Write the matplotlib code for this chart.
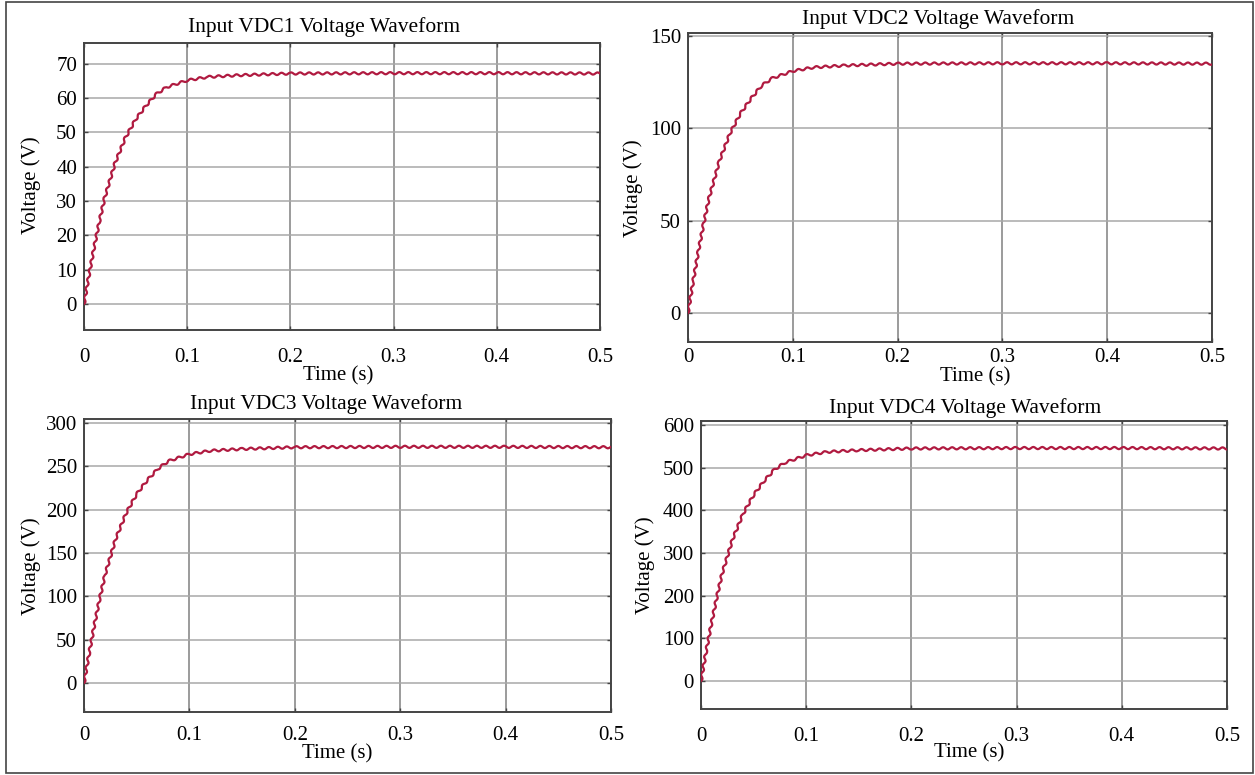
import matplotlib
matplotlib.use('Agg')
import matplotlib.pyplot as plt
from matplotlib.patches import Rectangle

# Time samples (s)
t = [0, 0.005, 0.01, 0.015, 0.02, 0.03, 0.04, 0.05, 0.06, 0.07, 0.08,
     0.1, 0.12, 0.15, 0.2, 0.3, 0.4, 0.5]

# Voltage values (V)
vdc1 = [0, 8.7, 16.8, 24.2, 30.9, 41.0, 48.4, 53.8, 57.8, 61.2, 63.2,
        65.2, 66.2, 66.7, 67.2, 67.3, 67.3, 67.2]
vdc2 = [0, 17.5, 33.8, 48.6, 62.1, 82.4, 97.2, 108, 116, 123, 127,
        131, 133, 134, 135, 135.2, 135.2, 135]
vdc3 = [0, 35, 68, 98, 125, 166, 196, 218, 234, 247, 256,
        264, 268, 270, 272, 272.5, 272.5, 272]
vdc4 = [0, 71, 136, 196, 251, 332, 392, 436, 469, 496, 512,
        529, 537, 541, 545, 546, 546, 545]

titles = ['Input VDC1 Voltage Waveform', 'Input VDC2 Voltage Waveform',
          'Input VDC3 Voltage Waveform', 'Input VDC4 Voltage Waveform']
xticks = [0, 0.1, 0.2, 0.3, 0.4, 0.5]
xticklabels = ['0', '0.1', '0.2', '0.3', '0.4', '0.5']
yticks = [[0, 10, 20, 30, 40, 50, 60, 70],
          [0, 50, 100, 150],
          [0, 50, 100, 150, 200, 250, 300],
          [0, 100, 200, 300, 400, 500, 600]]
ylims = [(-7.6, 76.1), (-15.7, 151.6), (-33.5, 304.6), (-65.6, 609.4)]
series = [vdc1, vdc2, vdc3, vdc4]

plt.rcParams['font.family'] = ['Liberation Serif', 'DejaVu Serif']

W, H = 1255, 775
fig = plt.figure(figsize=(W / 100, H / 100), dpi=100)

def px_rect(l, r, top, bot):
    return [l / W, 1 - bot / H, (r - l) / W, (bot - top) / H]

# axes boxes in pixels (left, right, top, bottom)
boxes = [(84, 600, 43, 330), (688, 1212, 33, 342),
         (84, 611, 419, 712), (701, 1227, 421, 709)]
xpads = [13, 4, 10, 13]
title_pos = [(324, 32), (938, 24), (326, 409), (965, 413)]
xlabel_pos = [(338, 376), (975, 377), (337, 754), (969, 753)]
ylabel_pos = [(31, 185), (633, 188), (31, 566), (645, 565)]

for i in range(4):
    ax = fig.add_axes(px_rect(*boxes[i]))
    line, = ax.plot(t, series[i], color='#b01a40', lw=1.6, zorder=3)
    line.set_sketch_params(scale=1.1, length=9, randomness=1)
    ax.set_xlim(0, 0.5)
    ax.set_ylim(*ylims[i])
    ax.set_xticks(xticks)
    ax.set_xticklabels(xticklabels)
    ax.set_yticks(yticks[i])
    ax.xaxis.grid(True, color='#808080', lw=1.1)
    ax.yaxis.grid(True, color='#a8a8a8', lw=1.1)
    ax.tick_params(axis='both', direction='in', length=3, width=1,
                   color='#444444', labelsize=15, top=True, right=True)
    ax.tick_params(axis='x', pad=xpads[i])
    ax.tick_params(axis='y', pad=5)
    for sp in ax.spines.values():
        sp.set_color('#444444')
        sp.set_linewidth(1.4)
    fig.text(title_pos[i][0] / W, 1 - title_pos[i][1] / H, titles[i],
             ha='center', va='baseline', fontsize=15.5)
    fig.text(xlabel_pos[i][0] / W, 1 - xlabel_pos[i][1] / H, 'Time (s)',
             ha='center', va='center', fontsize=15)
    fig.text(ylabel_pos[i][0] / W, 1 - ylabel_pos[i][1] / H, 'Voltage (V)',
             ha='center', va='center', rotation=90, fontsize=15)

# outer frame around the whole picture
fig.patches.append(Rectangle((6 / W, 1 - 773 / H), 1247 / W, 771 / H,
                             transform=fig.transFigure, fill=False,
                             edgecolor='#444444', lw=1.2))

fig.savefig('out.png', dpi=100)
